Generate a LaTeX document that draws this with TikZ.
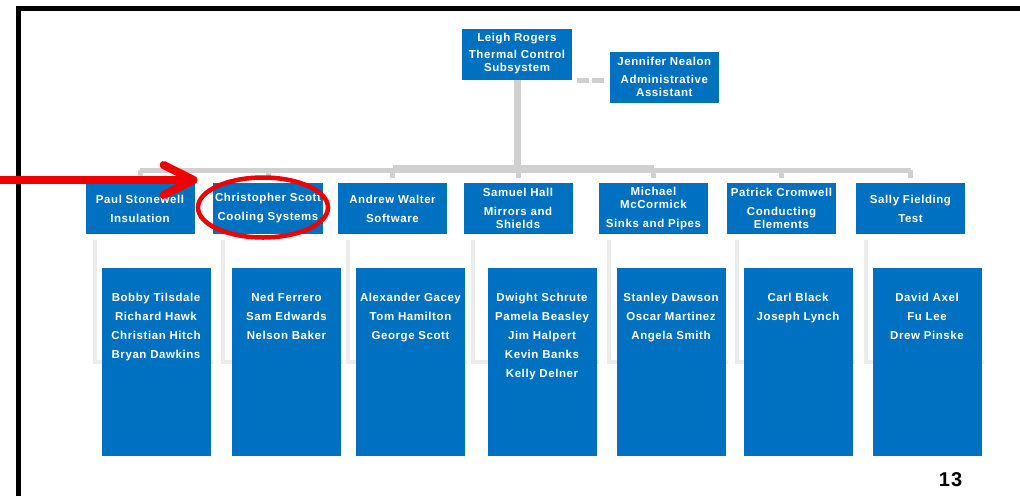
\documentclass[tikz,border=0pt]{standalone}
\usepackage{fontspec}
\setmainfont{Liberation Sans}[LetterSpace=5]
\usetikzlibrary{arrows.meta,positioning,calc,backgrounds}

\definecolor{orgblue}{RGB}{0,112,192}
\definecolor{linkgray}{RGB}{208,208,208}
\definecolor{faintgray}{RGB}{236,236,236}
\definecolor{markred}{RGB}{240,0,0}

% 組員名單: 文字靠上
\newcommand{\teamlist}[1]{\parbox[t][188pt][t]{109pt}{\centering\vspace*{25pt}#1}}

\begin{document}
\begin{tikzpicture}[
    x=1pt, y=-1pt, % 以像素為單位, y 往下
    thick,
    % 定義樣式
    leadbox/.style={
        fill=orgblue,
        text=white,
        minimum width=109pt,
        minimum height=51pt,
        inner sep=0pt,
        align=center,
        font=\fontsize{11.5}{13}\selectfont\bfseries
    },
    teambox/.style={
        fill=orgblue,
        text=white,
        minimum width=109pt,
        minimum height=188pt,
        inner sep=0pt,
        font=\fontsize{11.5}{19}\selectfont\bfseries
    },
    trunk/.style={draw=linkgray, line width=7pt},
    branch/.style={draw=linkgray, line width=5pt},
    assist/.style={draw=linkgray, line width=5pt, dash pattern=on 12pt off 3pt},
    faintlink/.style={draw=faintgray, line width=4pt},
    pointer/.style={draw=markred, line width=8pt, -{Straight Barb[length=30pt, width=30pt, round]}},
    highlight/.style={draw=markred, line width=4.5pt}
]
    \useasboundingbox (0,0) rectangle (1020,496);

    % --- 1. Frame ---
    \draw[line width=5pt] (18.5,496) -- (18.5,8.5) -- (1020,8.5);

    % --- 2. Subsystem lead + assistant ---
    \node[leadbox, minimum width=110pt] (leigh) at (517,54) {
        Leigh Rogers\\[4pt]
        Thermal Control\\
        Subsystem
    };
    \node[leadbox, right=37pt of leigh.north east, anchor=north west, yshift=-23pt] (jennifer) {
        Jennifer Nealon\\[5pt]
        Administrative\\
        Assistant
    };

    % --- 3. Group leads ---
    \node[leadbox] (paul) at (140,208.5) {Paul Stonewell\\[6pt] Insulation};
    \node[leadbox, minimum width=110pt] (chris) at (268,208.5) {Christopher Scott\\[6pt] Cooling Systems};
    \node[leadbox] (andrew) at (392.5,208.5) {Andrew Walter\\[6pt] Software};
    \node[leadbox] (samuel) at (518,208.5) {Samuel Hall\\[6pt] Mirrors and\\ Shields};
    \node[leadbox] (michael) at (653.5,208.5) {Michael\\ McCormick\\[6pt] Sinks and Pipes};
    \node[leadbox] (patrick) at (781.5,208.5) {Patrick Cromwell\\[6pt] Conducting\\ Elements};
    \node[leadbox] (sally) at (910.5,208.5) {Sally Fielding\\[6pt] Test};

    % --- 4. Team members ---
    \node[teambox] (paul-team) at (156,362) {\teamlist{Bobby Tilsdale\\ Richard Hawk\\ Christian Hitch\\ Bryan Dawkins}};
    \node[teambox] (chris-team) at (286.5,362) {\teamlist{Ned Ferrero\\ Sam Edwards\\ Nelson Baker}};
    \node[teambox] (andrew-team) at (410.5,362) {\teamlist{Alexander Gacey\\ Tom Hamilton\\ George Scott}};
    \node[teambox] (samuel-team) at (542,362) {\teamlist{Dwight Schrute\\ Pamela Beasley\\ Jim Halpert\\ Kevin Banks\\ Kelly Delner}};
    \node[teambox] (michael-team) at (671,362) {\teamlist{Stanley Dawson\\ Oscar Martinez\\ Angela Smith}};
    \node[teambox] (patrick-team) at (798,362) {\teamlist{Carl Black\\ Joseph Lynch}};
    \node[teambox] (sally-team) at (927,362) {\teamlist{David Axel\\ Fu Lee\\ Drew Pinske}};

    % --- 5. Connectors (灰色) ---
    \draw[trunk] (leigh.south) -- ++(0,90);
    \draw[branch] ([yshift=12.5pt]paul.north) -- ([yshift=12.5pt]sally.north);
    \draw[branch, line width=8pt] ([yshift=14pt]andrew.north) -- ([yshift=14pt]michael.north);
    \draw[assist, shorten <=5pt, shorten >=4pt] ([yshift=-1pt]leigh.south east) -- ([yshift=-1pt]leigh.south east -| jennifer.west);

    \foreach \lead in {paul,chris,andrew,samuel,michael,patrick,sally} {
        \draw[branch] ([yshift=12.5pt]\lead.north) -- ([yshift=5pt]\lead.north);
        % 淡色連線放在藍框後面
        \begin{scope}[on background layer]
            \draw[faintlink] ([xshift=10pt,yshift=-6pt]\lead.south west) |- ([xshift=2pt,yshift=-94pt]\lead-team.north east);
        \end{scope}
    }

    % --- 6. Red marks ---
    \coordinate (arrowstart) at (0,180);
    \draw[pointer] (arrowstart) -- ($(arrowstart -| chris.west)+(-15,0)$);
    \draw[highlight] ([xshift=-5pt,yshift=1pt]chris.center) ellipse [x radius=65pt, y radius=30pt];

    % --- 7. Page number ---
    \node[font=\fontsize{20}{20}\selectfont\bfseries] (pagenum) at (950.5,479.5) {13};

\end{tikzpicture}
\end{document}
